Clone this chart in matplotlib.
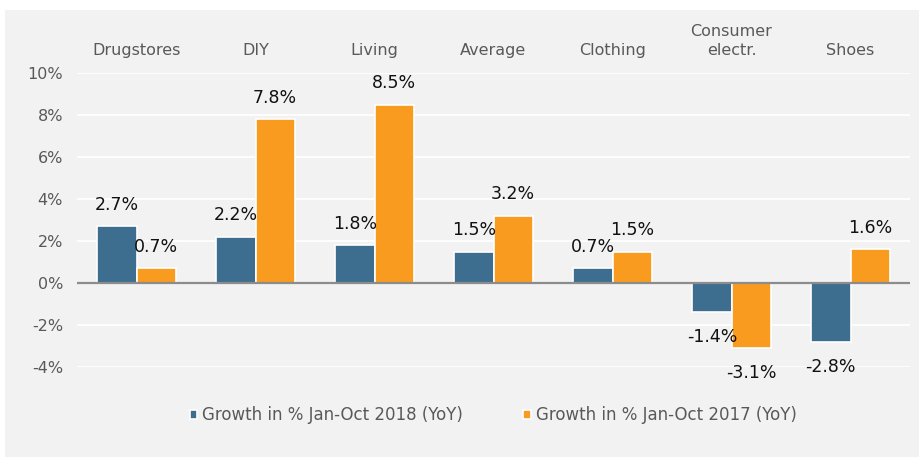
import numpy as np
import matplotlib
matplotlib.use("Agg")
import matplotlib.pyplot as plt
from matplotlib.patches import Rectangle

categories = ["Drugstores", "DIY", "Living", "Average", "Clothing",
              "Consumer\nelectr.", "Shoes"]
growth_2018 = [2.7, 2.2, 1.8, 1.5, 0.7, -1.4, -2.8]
growth_2017 = [0.7, 7.8, 8.5, 3.2, 1.5, -3.1, 1.6]
series_names = ["Growth in % Jan-Oct 2018 (YoY)", "Growth in % Jan-Oct 2017 (YoY)"]
yticks = [-4, -2, 0, 2, 4, 6, 8, 10]

blue = "#3d6e8f"
orange = "#f99b1e"
panel = "#f2f2f2"
grey_txt = "#595959"

plt.rcParams['font.family'] = ['DejaVu Sans']

fig = plt.figure(figsize=(9.19, 4.57), dpi=100)
fig.patch.set_facecolor("white")
# grey chart panel
fig.patches.append(Rectangle((5 / 919, 0), 1, (457 - 10) / 457,
                             transform=fig.transFigure, facecolor=panel,
                             edgecolor="none", zorder=-10))

ax = fig.add_axes([77 / 919, 1 - 367 / 457, (910 - 77) / 919, (367 - 73) / 457])
ax.patch.set_alpha(0)

x = np.arange(len(categories))
w = 0.33
b1 = ax.bar(x - w / 2, growth_2018, w, color=blue, edgecolor="white",
            linewidth=1.2, label=series_names[0], zorder=3)
b2 = ax.bar(x + w / 2, growth_2017, w, color=orange, edgecolor="white",
            linewidth=1.2, label=series_names[1], zorder=3)

for bars, vals in ((b1, growth_2018), (b2, growth_2017)):
    for r, v in zip(bars, vals):
        cx = r.get_x() + r.get_width() / 2
        off = 15.5 if v >= 0 else -18
        ax.annotate(f"{v:.1f}%", (cx, v), xytext=(0, off), textcoords="offset points",
                    ha="center", va="center", fontsize=12.5, color="#111111",
                    annotation_clip=False)

ax.set_xlim(-0.5, len(categories) - 0.5)
ax.set_ylim(-4, 10)
ax.set_yticks(yticks)
ax.set_yticklabels([f"{t}%" for t in yticks], color=grey_txt, fontsize=11.5)
ax.xaxis.tick_top()
ax.set_xticks(x)
ax.set_xticklabels(categories, color=grey_txt, fontsize=11.5, linespacing=1.35)
ax.tick_params(axis="both", length=0)
ax.tick_params(axis="x", pad=11)
ax.tick_params(axis="y", pad=10)

for t in yticks:
    if t != 0:
        ax.axhline(t, color="white", linewidth=1.3, zorder=1)
ax.axhline(0, color="#8c8c8c", linewidth=1.6, zorder=4)

for s in ax.spines.values():
    s.set_visible(False)

fig.legend(handles=[b1, b2], labels=series_names, loc="center",
           bbox_to_anchor=(493 / 919, 1 - 415 / 457), ncol=2, frameon=False,
           fontsize=12, labelcolor=grey_txt, handlelength=0.45, handleheight=0.45,
           handletextpad=0.3, columnspacing=3.6)

fig.savefig("out.png", dpi=100, facecolor=fig.get_facecolor())
